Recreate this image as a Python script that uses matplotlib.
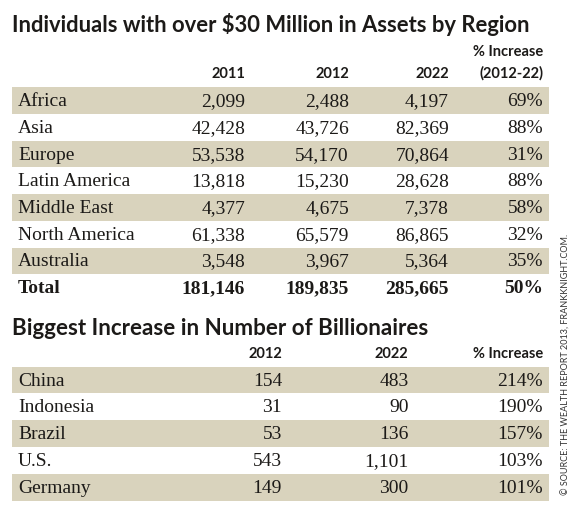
import matplotlib
matplotlib.use("Agg")
import matplotlib.pyplot as plt
from matplotlib import font_manager

# table 1: individuals with over $30 million in assets
regions = ['Africa', 'Asia', 'Europe', 'Latin America', 'Middle East',
           'North America', 'Australia']
hnw_2011 = [2099, 42428, 53538, 13818, 4377, 61338, 3548]
hnw_2012 = [2488, 43726, 54170, 15230, 4675, 65579, 3967]
hnw_2022 = [4197, 82369, 70864, 28628, 7378, 86865, 5364]
hnw_pct = [69, 88, 31, 88, 58, 32, 35]
total_label = 'Total'
hnw_totals = [181146, 189835, 285665]
total_pct = 50
hnw_headers = ['2011', '2012', '2022', '(2012-22)']

# table 2: billionaires
countries = ['China', 'Indonesia', 'Brazil', 'U.S.', 'Germany']
bil_2012 = [154, 31, 53, 543, 149]
bil_2022 = [483, 90, 136, 1101, 300]
bil_pct = [214, 190, 157, 103, 101]
bil_headers = ['2012', '2022', '% Increase']

title1 = 'Individuals with over $30 Million in Assets by Region'
title2 = 'Biggest Increase in Number of Billionaires'
source = '\u00a9 SOURCE: THE WEALTH REPORT 2013, FRANKKNIGHT.COM.'

BAND = '#d9d3bd'
INK = '#1c1a18'
SANS = 'Lato'
SERIF = 'Liberation Serif'
names = {f.name for f in font_manager.fontManager.ttflist}
NARROW = 'Liberation Sans Narrow' if 'Liberation Sans Narrow' in names else SANS

fig = plt.figure(figsize=(5.8, 5.18), dpi=100)
ax = fig.add_axes([0, 0, 1, 1])
ax.set_xlim(0, 580)
ax.set_ylim(518, 0)
ax.axis('off')

band_left, band_right = 12, 549
label_x = 18


def draw_table(top, row_h, labels, columns, col_right):
    n = len(labels)
    centers = [top + row_h * (i + 0.5) for i in range(n)]
    shaded = [c for i, c in enumerate(centers) if i % 2 == 0]
    ax.barh(shaded, band_right - band_left, left=band_left, height=row_h,
            color=BAND, zorder=0)
    for i, lab in enumerate(labels):
        base = top + row_h * i + 19
        ax.text(label_x, base, lab, fontsize=14, family=SERIF, color=INK,
                ha='left', va='baseline')
        for vals, x in zip(columns, col_right):
            ax.text(x, base, vals[i], fontsize=14, family=SERIF, color=INK,
                    ha='right', va='baseline')


# top table
ax.text(12, 31.5, title1, fontsize=15.8, family=SANS, weight='bold',
        color=INK, ha='left', va='baseline')
col1 = [245, 349, 449, 543]
ax.text(col1[3], 56, '% Increase', fontsize=10.5, family=NARROW,
        weight='bold', color=INK, ha='right', va='baseline')
for h, x in zip(hnw_headers, col1):
    ax.text(x, 78, h, fontsize=10.5, family=NARROW, weight='bold',
            color=INK, ha='right', va='baseline')

row_h1 = 26.7
cols1 = [[f'{v:,}' for v in hnw_2011], [f'{v:,}' for v in hnw_2012],
         [f'{v:,}' for v in hnw_2022], [f'{v}%' for v in hnw_pct]]
draw_table(87.3, row_h1, regions, cols1, col1)

total_base = 87.3 + row_h1 * len(regions) + 19
ax.text(label_x, total_base, total_label, fontsize=14, family=SERIF,
        weight='bold', color=INK, ha='left', va='baseline')
for v, x in zip([f'{t:,}' for t in hnw_totals] + [f'{total_pct}%'], col1):
    ax.text(x, total_base, v, fontsize=14, family=SERIF, weight='bold',
            color=INK, ha='right', va='baseline')

# bottom table
ax.text(12, 335, title2, fontsize=16.1, family=SANS, weight='bold',
        color=INK, ha='left', va='baseline')
col2 = [282, 408.5, 543]
for h, x in zip(bil_headers, col2):
    ax.text(x, 358, h, fontsize=10.5, family=NARROW, weight='bold',
            color=INK, ha='right', va='baseline')
cols2 = [[f'{v:,}' for v in bil_2012], [f'{v:,}' for v in bil_2022],
         [f'{v}%' for v in bil_pct]]
draw_table(366.7, 26.8, countries, cols2, col2)

ax.text(566, 364, source, fontsize=6.5, family=SANS, color='#333333',
        rotation=90, ha='center', va='center')

fig.savefig('out.png', dpi=100, facecolor='white')
